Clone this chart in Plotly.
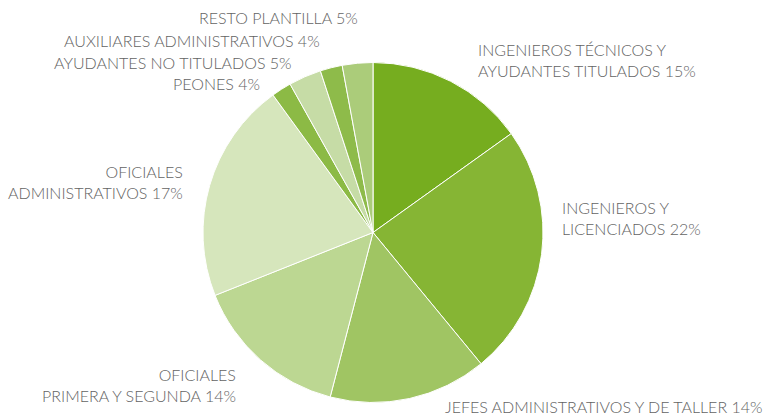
import plotly.graph_objects as go

W, H = 767, 416

categories = [
    "INGENIEROS TÉCNICOS Y<br>AYUDANTES TITULADOS 15%",
    "INGENIEROS Y<br>LICENCIADOS 22%",
    "JEFES ADMINISTRATIVOS Y DE TALLER 14%",
    "OFICIALES<br>PRIMERA Y SEGUNDA 14%",
    "OFICIALES<br>ADMINISTRATIVOS 17%",
    "PEONES 4%",
    "AYUDANTES NO TITULADOS 5%",
    "AUXILIARES ADMINISTRATIVOS 4%",
    "RESTO PLANTILLA 5%",
]
# slice sizes as drawn in the picture (share of the circle, %)
values = [15.1, 23.9, 15.0, 14.9, 21.0, 1.9, 3.1, 2.1, 2.9]
colors = ["#76AD1F", "#86B534", "#A0C563", "#BCD792", "#D6E6BC",
          "#8CBA45", "#C6DCA6", "#8EBB4A", "#ABCC7A"]

# label placement (pixels): x, y, anchor
label_pos = [
    (476, 60, "left"),
    (560, 218, "left"),
    (443, 406, "left"),
    (238, 385, "right"),
    (185, 182, "right"),
    (262, 83, "right"),
    (294, 62, "right"),
    (322, 40, "right"),
    (360, 18, "right"),
]

cx, cy, r = 373, 232.5, 170

fig = go.Figure(go.Pie(
    labels=categories,
    values=values,
    sort=False,
    direction="clockwise",
    rotation=0,
    textinfo="none",
    hoverinfo="label",
    marker=dict(colors=colors, line=dict(color="white", width=1)),
    domain=dict(x=[(cx - r) / W, (cx + r) / W], y=[1 - (cy + r) / H, 1 - (cy - r) / H]),
    showlegend=False,
))

for text, (x, y, anc) in zip(categories, label_pos):
    fig.add_annotation(
        x=x / W, y=1 - y / H, xref="paper", yref="paper",
        text=text, showarrow=False, xanchor=anc, yanchor="middle",
        align=anc, font=dict(family="Lato", size=16, color="#636363", weight=300),
    )

fig.update_layout(
    width=W, height=H,
    margin=dict(l=0, r=0, t=0, b=0),
    paper_bgcolor="white", plot_bgcolor="white",
)

fig.write_html(
    "out.html",
    config={"displayModeBar": False},
    post_script="document.body.style.margin='0px';document.body.style.overflow='hidden';",
)
